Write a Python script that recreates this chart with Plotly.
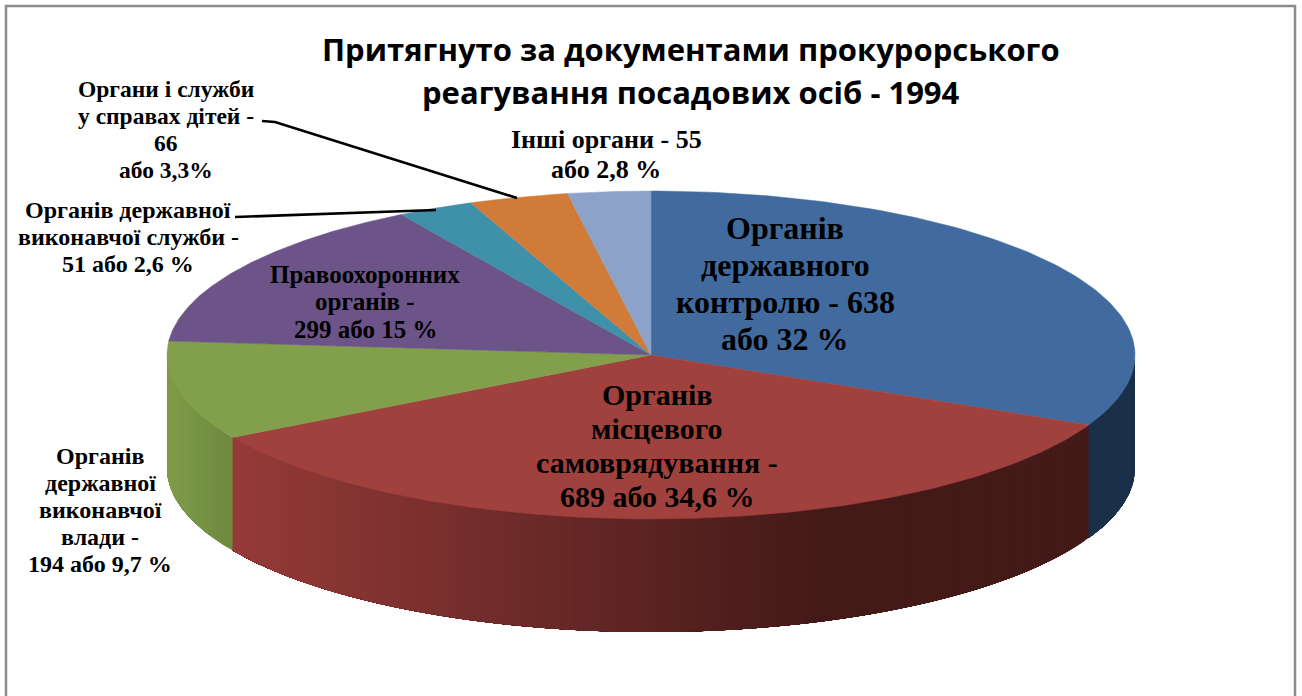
import numpy as np
import plotly.graph_objects as go

categories = ["Органів державного контролю", "Органів місцевого самоврядування",
              "Органів державної виконавчої влади", "Правоохоронних органів",
              "Органів державної виконавчої служби", "Органи і служби у справах дітей",
              "Інші органи"]
values = [638, 689, 194, 299, 51, 66, 55]
top_colors = ["#416b9f", "#a0413e", "#829f4c", "#6c5388", "#3f91a9", "#d07c38", "#8ca2c8"]
side_dark = ["#1a2f48", "#431a18", "#6f8a40", "#3c2d4e", "#235463", "#7a4520", "#52617c"]
side_light = ["#1a2f48", "#963b39", "#7f9c49", "#3c2d4e", "#235463", "#7a4520", "#52617c"]
title_lines = ["Притягнуто за документами прокурорського", "реагування посадових осіб - 1994"]

CX, CY, RX, RY, DEPTH = 651, 355, 484, 164, 113


def hex2rgb(c):
    return np.array([int(c[i:i + 2], 16) for i in (1, 3, 5)], dtype=float)


def ex(t):
    return CX + RX * np.sin(t)


def ey(t):
    return CY - RY * np.cos(t)


total = sum(values)
edges = np.concatenate([[0], np.cumsum(values)]) / total * 2 * np.pi

fig = go.Figure()

# side wall: only the front half of the ellipse; each strip runs on to the wall's
# far end and is painted over by the next one, so no seams appear between strips
for i, name in enumerate(categories):
    a0, a1 = max(edges[i], np.pi / 2), min(edges[i + 1], 3 * np.pi / 2)
    if a1 <= a0:
        continue
    n = max(2, int((a1 - a0) / np.radians(1.0)))
    steps = np.linspace(a0, a1, n + 1)
    x_hi, x_lo = ex(a0), ex(a1)
    dark, light = hex2rgb(side_dark[i]), hex2rgb(side_light[i])
    for s in range(n):
        arc = np.linspace(steps[s], a1, 60)
        xs = np.concatenate([ex(arc), ex(arc)[::-1]])
        ys = np.concatenate([ey(arc), ey(arc)[::-1] + DEPTH])
        mid = (ex(np.array([steps[s], steps[s + 1]])).mean() - x_lo) / max(x_hi - x_lo, 1)
        f = min(1.0, mid * (1.45 if i == 1 else 1.0))
        col = light + (dark - light) * f
        c = "rgb(%d,%d,%d)" % tuple(col)
        fig.add_trace(go.Scatter(x=xs, y=ys, mode="lines", fill="toself", fillcolor=c,
                                 line=dict(color=c, width=0), hoverinfo="skip", showlegend=False))

# top face
for i, name in enumerate(categories):
    arc = np.linspace(edges[i], edges[i + 1], 120)
    xs = np.concatenate([[CX], ex(arc), [CX]])
    ys = np.concatenate([[CY], ey(arc), [CY]])
    fig.add_trace(go.Scatter(x=xs, y=ys, mode="lines", fill="toself", fillcolor=top_colors[i],
                             line=dict(color=top_colors[i], width=0.5), name=name,
                             text=f"{name}: {values[i]}", hoverinfo="text", showlegend=False))

SERIF = "Liberation Serif"
# lines, centre x, y of first line, line gap, font size
labels = [
    (["Органів", "державного", "контролю - 638", "або 32 %"], 785, 228, 37, 32),
    (["Органів", "місцевого", "самоврядування -", "689 або 34,6 %"], 657, 394, 34, 30),
    (["Органів", "державної", "виконавчої", "влади -", "194 або 9,7 %"], 100, 456, 27, 24),
    (["Правоохоронних", "органів -", "299 або 15 %"], 365, 274, 27.5, 25),
    (["Органів державної", "виконавчої служби -", "51 або 2,6 %"], 128, 210, 27, 24),
    (["Органи і служби", "у справах дітей -", "66", "або 3,3%"], 166, 89, 27, 23.5),
    (["Інші органи - 55", "або 2,8 %"], 606, 139, 30, 26),
]
annotations = []
for lines, cx, y0, gap, size in labels:
    for k, line in enumerate(lines):
        annotations.append(dict(text=f"<b>{line}</b>", x=cx, y=y0 + k * gap, xref="x", yref="y",
                                showarrow=False, xanchor="center", yanchor="middle",
                                font=dict(family=SERIF, size=size, color="#000")))
for line, y in zip(title_lines, (49, 92)):
    annotations.append(dict(text=f"<b>{line}</b>", x=691, y=y, xref="x", yref="y",
                            showarrow=False, xanchor="center", yanchor="middle",
                            font=dict(family="Open Sans", size=31, color="#000")))

shapes = [
    dict(type="rect", x0=6, y0=6, x1=1295, y1=720, line=dict(color="#8c8c8c", width=2.5), layer="below"),
    dict(type="path", path="M 262 121 L 275 122 L 517 198", line=dict(color="#000", width=2.6)),
    dict(type="path", path="M 235 217 L 436 210", line=dict(color="#000", width=2.6)),
]

fig.update_layout(
    width=1302, height=696, autosize=False,
    margin=dict(l=0, r=0, t=0, b=0),
    paper_bgcolor="#fff", plot_bgcolor="#fff",
    xaxis=dict(range=[0, 1302], visible=False, fixedrange=True),
    yaxis=dict(range=[696, 0], visible=False, fixedrange=True),
    annotations=annotations, shapes=shapes, showlegend=False,
)
fig.write_html("out.html", config=dict(displayModeBar=False),
               post_script="document.body.style.margin='0';document.body.style.overflow='hidden';")
